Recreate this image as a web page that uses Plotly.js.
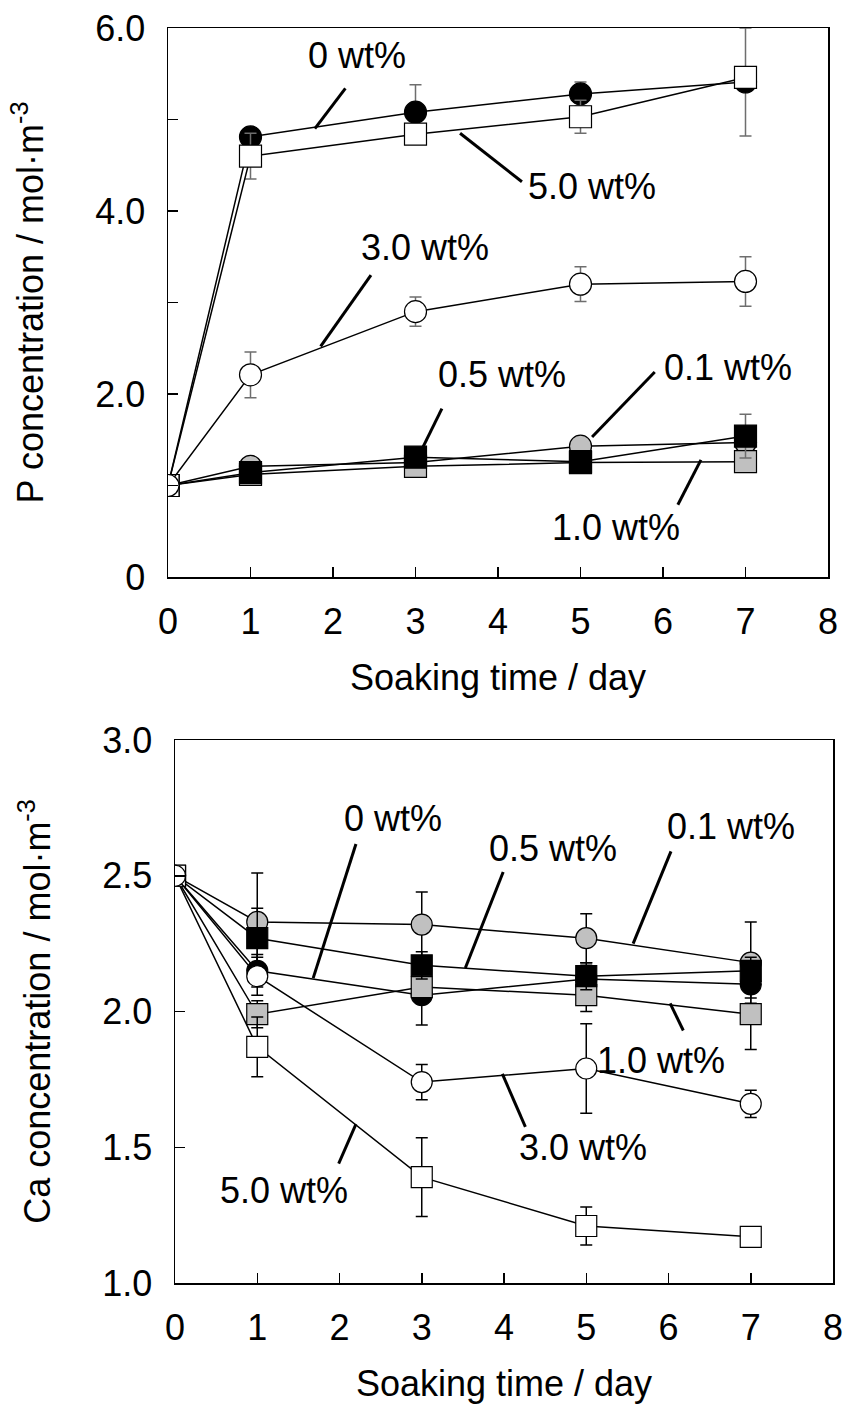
<!DOCTYPE html>
<html>
<head>
<meta charset="utf-8">
<script src="https://cdn.plot.ly/plotly-3.0.1.min.js"></script>
<style>
  html, body { margin: 0; padding: 0; background: #fff; }
  #chart { width: 845px; height: 1418px; }
</style>
</head>
<body>
<div id="chart"></div>
<script>
// Soaking time (days)
const days = [0, 1, 3, 5, 7];

// P concentration (mol·m^-3) for each additive content
const p_0wt   = [1.0, 4.81, 5.08, 5.28, 5.41];
const p_0wtErr   = [0, 0.10, 0.30, 0.13, 0.59];
const p_01wt  = [1.0, 1.21, 1.25, 1.43, 1.47];
const p_01wtErr  = [0, 0.05, 0.05, 0.05, 0.10];
const p_05wt  = [1.0, 1.14, 1.31, 1.26, 1.54];
const p_05wtErr  = [0, 0.05, 0.05, 0.05, 0.24];
const p_10wt  = [1.0, 1.12, 1.21, 1.25, 1.26];
const p_10wtErr  = [0, 0.04, 0.04, 0.04, 0.04];
const p_30wt  = [1.0, 2.21, 2.90, 3.20, 3.23];
const p_30wtErr  = [0, 0.25, 0.16, 0.19, 0.27];
const p_50wt  = [1.0, 4.60, 4.84, 5.03, 5.46];
const p_50wtErr  = [0, 0.25, 0.10, 0.18, 0.08];

// Ca concentration (mol·m^-3) for each additive content
const ca_0wt  = [2.5, 2.15, 2.06, 2.12, 2.10];
const ca_0wtErr  = [0, 0.06, 0.11, 0.05, 0.05];
const ca_01wt = [2.5, 2.33, 2.32, 2.27, 2.18];
const ca_01wtErr = [0, 0.18, 0.12, 0.09, 0.15];
const ca_05wt = [2.5, 2.27, 2.17, 2.13, 2.15];
const ca_05wtErr = [0, 0.11, 0.05, 0.05, 0.05];
const ca_10wt = [2.5, 1.99, 2.09, 2.06, 1.99];
const ca_10wtErr = [0, 0.05, 0.05, 0.06, 0.13];
const ca_30wt = [2.5, 2.13, 1.74, 1.79, 1.66];
const ca_30wtErr = [0, 0.07, 0.065, 0.165, 0.05];
const ca_50wt = [2.5, 1.87, 1.39, 1.21, 1.17];
const ca_50wtErr = [0, 0.11, 0.145, 0.07, 0.02];

// Tick labels
const xTickVals = [0, 1, 2, 3, 4, 5, 6, 7, 8];
const xTickText = ['0', '1', '2', '3', '4', '5', '6', '7', '8'];
const pTickVals = [0, 2, 4, 6];
const pTickText = ['0', '2.0', '4.0', '6.0'];
const caTickVals = [1.0, 1.5, 2.0, 2.5, 3.0];
const caTickText = ['1.0', '1.5', '2.0', '2.5', '3.0'];

// Series labels with their label/leader positions (axis units)
const pLabels = [
  { text: '0 wt%',   tx: 2.29, ty: 5.70, l: [2.15, 5.34, 1.78, 4.90] },
  { text: '5.0 wt%', tx: 5.14, ty: 4.27, l: [4.29, 4.32, 3.54, 4.85] },
  { text: '3.0 wt%', tx: 3.12, ty: 3.60, l: [2.46, 3.30, 1.85, 2.52] },
  { text: '0.5 wt%', tx: 4.05, ty: 2.21, l: [3.32, 1.84, 3.09, 1.42] },
  { text: '0.1 wt%', tx: 6.79, ty: 2.29, l: [5.90, 2.24, 5.14, 1.53] },
  { text: '1.0 wt%', tx: 5.43, ty: 0.54, l: [6.46, 1.28, 6.18, 0.79] }
];
const caLabels = [
  { text: '0 wt%',   tx: 2.65, ty: 2.71, l: [2.20, 2.617, 1.68, 2.123] },
  { text: '0.5 wt%', tx: 4.60, ty: 2.60, l: [3.99, 2.514, 3.53, 2.16] },
  { text: '0.1 wt%', tx: 6.76, ty: 2.68, l: [6.03, 2.59, 5.57, 2.25] },
  { text: '1.0 wt%', tx: 5.91, ty: 1.82, l: [6.18, 1.93, 6.02, 2.03] },
  { text: '3.0 wt%', tx: 4.96, ty: 1.50, l: [4.26, 1.575, 3.98, 1.77] },
  { text: '5.0 wt%', tx: 1.33, ty: 1.34, l: [1.99, 1.44, 2.20, 1.585] }
];

const FONT = '"Liberation Sans", Arial, sans-serif';
const FS = 36;
const GRAY = '#c0c0c0';

function series(y, err, fill, symbol, xa, ya, errColor, size) {
  return {
    x: days, y: y, type: 'scatter', mode: 'lines+markers',
    xaxis: xa, yaxis: ya, showlegend: false, hoverinfo: 'x+y',
    line: { color: '#000', width: 1.5 },
    marker: { symbol: symbol, size: size, color: fill, line: { color: '#000', width: 1.2 } },
    error_y: { type: 'data', array: err, visible: true, color: errColor, thickness: 1.5, width: 6 }
  };
}

const errTop = '#6e6e6e';
const errBot = '#000';
// Layering: later traces are drawn on top
const traces = [
  series(p_01wt, p_01wtErr, GRAY,  'circle', 'x', 'y', errTop, 22),
  series(p_0wt,  p_0wtErr,  '#000', 'circle', 'x', 'y', errTop, 22),
  series(p_10wt, p_10wtErr, GRAY,  'square', 'x', 'y', errTop, 22),
  series(p_05wt, p_05wtErr, '#000', 'square', 'x', 'y', errTop, 22),
  series(p_50wt, p_50wtErr, '#fff', 'square', 'x', 'y', errTop, 22),
  series(p_30wt, p_30wtErr, '#fff', 'circle', 'x', 'y', errTop, 22),

  series(ca_01wt, ca_01wtErr, GRAY,  'circle', 'x2', 'y2', errBot, 21),
  series(ca_0wt,  ca_0wtErr,  '#000', 'circle', 'x2', 'y2', errBot, 21),
  series(ca_10wt, ca_10wtErr, GRAY,  'square', 'x2', 'y2', errBot, 21),
  series(ca_05wt, ca_05wtErr, '#000', 'square', 'x2', 'y2', errBot, 21),
  series(ca_50wt, ca_50wtErr, '#fff', 'square', 'x2', 'y2', errBot, 21),
  series(ca_30wt, ca_30wtErr, '#fff', 'circle', 'x2', 'y2', errBot, 21)
];

const annotations = [];
const shapes = [];
function addLabels(list, xr, yr) {
  list.forEach(function (d) {
    annotations.push({
      x: d.tx, y: d.ty, xref: xr, yref: yr, text: d.text, showarrow: false,
      font: { family: FONT, size: FS, color: '#000' }, xanchor: 'center', yanchor: 'middle'
    });
    shapes.push({
      type: 'line', xref: xr, yref: yr,
      x0: d.l[0], y0: d.l[1], x1: d.l[2], y1: d.l[3],
      line: { color: '#000', width: 3 }
    });
  });
}
addLabels(pLabels, 'x', 'y');
addLabels(caLabels, 'x2', 'y2');

function xAxis(domain, anchor) {
  return {
    domain: domain, anchor: anchor, range: [0, 8],
    tickmode: 'array', tickvals: xTickVals, ticktext: xTickText,
    ticks: 'inside', ticklen: 10, tickwidth: 1.5, tickcolor: '#000',
    showline: true, linecolor: '#000', linewidth: 1.5, mirror: true,
    showgrid: false, zeroline: false, ticklabelstandoff: 12,
    tickfont: { family: FONT, size: FS, color: '#000' },
    title: { text: 'Soaking time / day', font: { family: FONT, size: FS, color: '#000' }, standoff: 24 }
  };
}
function yAxis(domain, anchor, range, vals, text, title, minorStep) {
  const ax = {
    domain: domain, anchor: anchor, range: range,
    tickmode: 'array', tickvals: vals, ticktext: text,
    ticks: 'inside', ticklen: 10, tickwidth: 1.5, tickcolor: '#000',
    showline: true, linecolor: '#000', linewidth: 1.5, mirror: true,
    showgrid: false, zeroline: false, ticklabelstandoff: 14,
    tickfont: { family: FONT, size: FS, color: '#000' },
    title: { text: title, font: { family: FONT, size: FS, color: '#000' }, standoff: 40 }
  };
  if (minorStep) {
    ax.minor = { ticks: 'inside', ticklen: 10, tickwidth: 1.5, tickcolor: '#000',
                 tickmode: 'linear', tick0: range[0], dtick: minorStep, showgrid: false };
  }
  return ax;
}

const layout = {
  width: 845, height: 1418,
  margin: { l: 0, r: 0, t: 0, b: 0 },
  paper_bgcolor: '#fff', plot_bgcolor: '#fff',
  showlegend: false,
  xaxis: xAxis([168 / 845, 828 / 845], 'y'),
  yaxis: yAxis([1 - 577 / 1418, 1 - 28 / 1418], 'x', [0, 6], pTickVals, pTickText,
               'P concentration / mol·m<sup>-3</sup>', 1),
  xaxis2: xAxis([175 / 845, 833 / 845], 'y2'),
  yaxis2: yAxis([1 - 1283 / 1418, 1 - 740 / 1418], 'x2', [1, 3], caTickVals, caTickText,
                'Ca concentration / mol·m<sup>-3</sup>', null),
  annotations: annotations,
  shapes: shapes
};

Plotly.newPlot('chart', traces, layout, { staticPlot: true, displayModeBar: false });
</script>
</body>
</html>
